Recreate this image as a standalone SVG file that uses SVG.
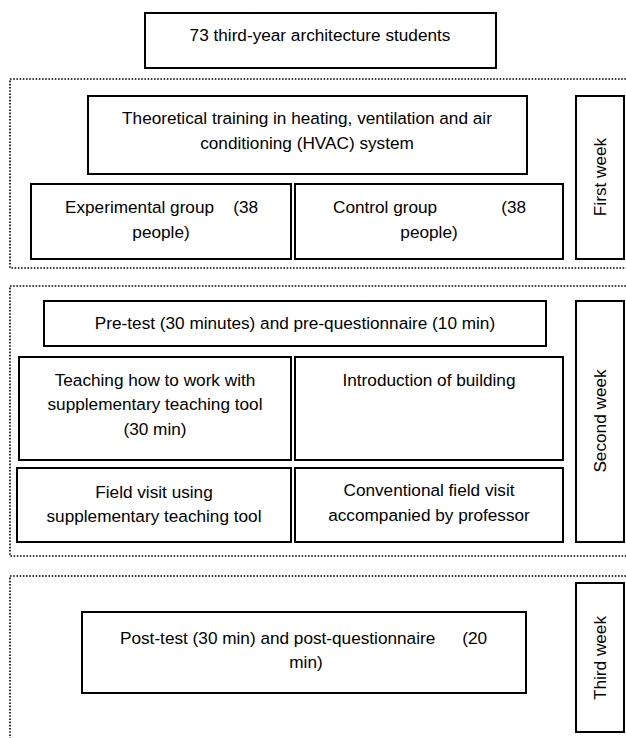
<svg xmlns="http://www.w3.org/2000/svg" width="626" height="738" viewBox="0 0 626 738">
<style>
.box{fill:#fff;stroke:#000;stroke-width:2}
.dot{fill:none;stroke:#000;stroke-width:1.6;stroke-dasharray:1.6 1.6}
text{font-family:"Liberation Sans",Arial,sans-serif;font-size:17.2px;fill:#000;text-anchor:middle;dominant-baseline:central}
</style>
<rect width="626" height="738" fill="#fff"/>
<g id="frames">
<path class="dot" d="M626,79 H10 V268 H626"/>
<path class="dot" d="M626,286 H10 V556 H626"/>
<path class="dot" d="M626,576 H10 V738"/>
</g>
<g id="students"><rect class="box" x="145" y="13" width="351" height="55"/><text x="320" y="35">73 third-year architecture students</text></g>
<g id="theory"><rect class="box" x="88" y="96" width="439" height="78"/><text x="307" y="118">Theoretical training in heating, ventilation and air</text><text x="307" y="143">conditioning (HVAC) system</text></g>
<g id="experimental"><rect class="box" x="31" y="184" width="260" height="75"/><text x="65" y="207" style="text-anchor:start">Experimental group</text><text x="258" y="207" style="text-anchor:end">(38</text><text x="161" y="232">people)</text></g>
<g id="control"><rect class="box" x="295" y="184" width="268" height="75"/><text x="333" y="207" style="text-anchor:start">Control group</text><text x="526" y="207" style="text-anchor:end">(38</text><text x="429" y="232">people)</text></g>
<g id="week1"><rect class="box" x="576" y="96" width="48" height="163"/><text transform="translate(600,177) rotate(-90)">First week</text></g>
<g id="pretest"><rect class="box" x="44" y="301" width="502" height="45"/><text x="295" y="323">Pre-test (30 minutes) and pre-questionnaire (10 min)</text></g>
<g id="teaching"><rect class="box" x="19" y="357" width="272" height="103"/><text x="155" y="380">Teaching how to work with</text><text x="155" y="404">supplementary teaching tool</text><text x="155" y="429">(30 min)</text></g>
<g id="introduction"><rect class="box" x="295" y="357" width="268" height="103"/><text x="429" y="380">Introduction of building</text></g>
<g id="fieldvisit"><rect class="box" x="17" y="468" width="274" height="74"/><text x="154" y="492">Field visit using</text><text x="154" y="516">supplementary teaching tool</text></g>
<g id="conventional"><rect class="box" x="295" y="468" width="268" height="74"/><text x="429" y="490">Conventional field visit</text><text x="429" y="515">accompanied by professor</text></g>
<g id="week2"><rect class="box" x="576" y="301" width="48" height="241"/><text transform="translate(600,421) rotate(-90)">Second week</text></g>
<g id="posttest"><rect class="box" x="82" y="612" width="444" height="81"/><text x="120" y="638" style="text-anchor:start">Post-test (30 min) and post-questionnaire</text><text x="487" y="638" style="text-anchor:end">(20</text><text x="306" y="662">min)</text></g>
<g id="week3"><rect class="box" x="576" y="583" width="48" height="149"/><text transform="translate(600,658) rotate(-90)">Third week</text></g>
<g id="connectors"/>
</svg>
